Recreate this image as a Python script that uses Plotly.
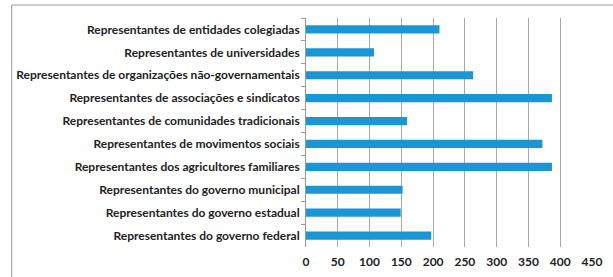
import plotly.graph_objects as go

categories = [
    "Representantes de entidades colegiadas",
    "Representantes de universidades",
    "Representantes de organizações não-governamentais",
    "Representantes de associações e sindicatos",
    "Representantes de comunidades tradicionais",
    "Representantes de movimentos sociais",
    "Representantes dos agricultores familiares",
    "Representantes do governo municipal",
    "Representantes do governo estadual",
    "Representantes do governo federal",
]
values = [210, 107, 263, 387, 159, 372, 387, 152, 149, 197]
x_ticks = [0, 50, 100, 150, 200, 250, 300, 350, 400, 450]

fig = go.Figure(go.Bar(
    y=categories, x=values, orientation="h",
    marker=dict(color="#1a96d4", line=dict(width=0)),
    width=0.36,
))

font_family = "Lato"
fig.update_layout(
    width=613, height=277,
    margin=dict(l=306, r=21, t=18, b=30, autoexpand=False),
    paper_bgcolor="white", plot_bgcolor="white",
    showlegend=False,
    font=dict(family=font_family, size=12, color="#222", weight="bold"),
    xaxis=dict(
        range=[0, 450], tickvals=x_ticks, showgrid=True, gridcolor="#a8a8a8",
        gridwidth=1, zeroline=False, showline=False, ticks="",
        tickfont=dict(size=12, color="#222", weight="bold"), automargin=False,
        ticklabelstandoff=6,
    ),
    yaxis=dict(
        autorange="reversed", showline=True, linecolor="#999", linewidth=1,
        ticks="outside", ticklen=4, tickcolor="#999", tickson="boundaries",
        showgrid=False, tickfont=dict(size=12, color="#222", weight="bold"),
        ticksuffix=" ", automargin=False,
    ),
    shapes=[dict(
        type="rect", xref="paper", yref="paper",
        x0=(12 - 306) / 285.7, x1=1.2, y0=-0.3, y1=(247 - 5) / 229,
        line=dict(color="#999", width=1), fillcolor="rgba(0,0,0,0)", layer="below",
    )],
)

fig.write_html("out.html", config={"displayModeBar": False},
               post_script="document.body.style.margin='0';")
